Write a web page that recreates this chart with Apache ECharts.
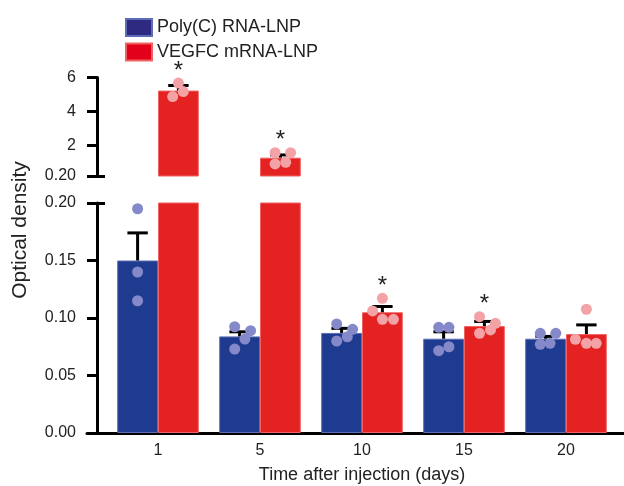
<!DOCTYPE html>
<html>
<head>
<meta charset="utf-8">
<script src="https://cdn.jsdelivr.net/npm/echarts@6/dist/echarts.min.js"></script>
<style>html,body{margin:0;padding:0;background:#fff}#c{width:624px;height:486px}</style>
</head>
<body>
<div id="c"></div>
<script>
// ---------- data ----------
const categories = ['1', '5', '10', '15', '20'];
const seriesNames = ['Poly(C) RNA-LNP', 'VEGFC mRNA-LNP'];
const polyMean = [0.150, 0.084, 0.087, 0.082, 0.082];
const polySem  = [0.024, 0.004, 0.004, 0.006, 0.002];
const vegfMean = [5.23, 1.28, 0.105, 0.093, 0.086];
const vegfSem  = [0.30, 0.16, 0.005, 0.004, 0.008];
const polyPoints = [
  [0.195, 0.140, 0.115],
  [0.0924, 0.089, 0.0817, 0.073],
  [0.0948, 0.0902, 0.0837, 0.080],
  [0.0919, 0.0919, 0.0716, 0.075],
  [0.0867, 0.0867, 0.0771, 0.078]
];
const vegfPoints = [
  [5.67, 4.88, 5.17],
  [1.575, 1.575, 0.908, 1.008],
  [0.1171, 0.1061, 0.0989, 0.0989],
  [0.1011, 0.0954, 0.0896, 0.0867],
  [0.1076, 0.0815, 0.078, 0.078]
];
const vegfSignificant = [true, true, true, true, false];
const topTicks = [0.2, 2, 4, 6];
const bottomTicks = [0, 0.05, 0.10, 0.15, 0.20];
// horizontal jitter of the dots, as a fraction of bar width
const polyJitter = [
  [0, 0, 0], [-0.12, 0.27, 0.13, -0.12], [-0.12, 0.27, 0.14, -0.12],
  [-0.12, 0.13, -0.12, 0.13], [-0.13, 0.25, -0.13, 0.11]
];
const vegfJitter = [
  [0, -0.14, 0.12], [-0.13, 0.25, -0.13, 0.13], [0, -0.24, 0, 0.27],
  [-0.12, 0.27, 0.15, -0.12], [0, -0.27, 0, 0.24]
];

// ---------- styling ----------
const FONT = 'Liberation Sans, Arial, sans-serif';
const BAR_COLORS = ['#1f3b8f', '#e42222'];
const BAR_BORDERS = ['#5d6db5', '#f06262'];
const DOT_COLORS = ['#8589c9', '#f3a2a6'];
const LEGEND_COLORS = ['#2e2a82', '#e2001a'];
const BARW = 0.4; // bar width as band fraction

const means = [polyMean, vegfMean];
const sems = [polySem, vegfSem];
const points = [polyPoints, vegfPoints];
const jitters = [polyJitter, vegfJitter];

function renderMarks(params, api) {
  const cat = api.value(0);
  const s = api.value(2);
  const band = api.size([1, 0])[0];
  const bw = band * BARW;
  const cx = api.coord([cat, 0])[0] + (s === 0 ? -bw / 2 : bw / 2);
  const m = means[s][cat], e = sems[s][cat];
  const yM = api.coord([cat, m])[1];
  const yE = api.coord([cat, m + e])[1];
  const children = [];
  children.push({ type: 'line', shape: { x1: cx, y1: yM, x2: cx, y2: yE },
    style: { stroke: '#000', lineWidth: 3 } });
  children.push({ type: 'line', shape: { x1: cx - bw / 4, y1: yE, x2: cx + bw / 4, y2: yE },
    style: { stroke: '#000', lineWidth: 3 } });
  let minY = Infinity;
  points[s][cat].forEach(function (v, k) {
    const p = api.coord([cat, v]);
    const x = cx + jitters[s][cat][k] * bw;
    minY = Math.min(minY, p[1]);
    children.push({ type: 'circle', shape: { cx: x, cy: p[1], r: 5.5 },
      style: { fill: DOT_COLORS[s] } });
  });
  if (s === 1 && vegfSignificant[cat]) {
    children.push({ type: 'text', x: cx, y: minY - 12,
      style: { text: '*', font: '24px ' + FONT, fill: '#222', align: 'center', verticalAlign: 'middle' } });
  }
  return { type: 'group', children: children };
}

function markData(top) {
  const out = [];
  for (let s = 0; s < 2; s++) {
    for (let i = 0; i < categories.length; i++) {
      const m = means[s][i];
      if ((top && m > 0.2) || (!top && m <= 0.2)) out.push([i, m, s]);
    }
  }
  return out;
}

const axisLineStyle = { color: '#000', width: 3 };
const chart = echarts.init(document.getElementById('c'), null, { renderer: 'canvas' });
chart.setOption({
  animation: false,
  textStyle: { fontFamily: FONT },
  legend: {
    orient: 'vertical', left: 120, top: 13, itemWidth: 26, itemHeight: 17, itemGap: 5.5,
    textStyle: { fontSize: 18, color: '#222', fontFamily: FONT },
    data: seriesNames.map(function (n, i) { return { name: n, icon: 'rect', itemStyle: { color: LEGEND_COLORS[i] } }; })
  },
  grid: [
    { left: 107, right: 7, top: 77.5, height: 98.5 },
    { left: 107, right: 7, top: 203, height: 230 },
    { left: 87, right: 0, top: 203, height: 230 }
  ],
  graphic: [{
    type: 'text', x: 20, y: 230, rotation: Math.PI / 2,
    style: { text: 'Optical density', font: '21px ' + FONT, fill: '#222', align: 'center', verticalAlign: 'middle' }
  }],
  xAxis: [
    { gridIndex: 0, type: 'category', data: categories, show: false },
    { gridIndex: 1, type: 'category', data: categories,
      axisLine: { show: false }, axisTick: { show: false },
      axisLabel: { fontSize: 16, color: '#222', margin: 10 },
      name: 'Time after injection (days)', nameLocation: 'middle', nameGap: 33,
      nameTextStyle: { fontSize: 18, color: '#222' } },
    { gridIndex: 2, type: 'value', min: 0, max: 1,
      axisLine: { show: true, onZero: false, lineStyle: axisLineStyle },
      axisTick: { show: false }, axisLabel: { show: false }, splitLine: { show: false } }
  ],
  yAxis: [
    { gridIndex: 0, type: 'value', position: 'left', min: 0.2, max: 6, offset: 10,
      axisLine: { show: true, lineStyle: axisLineStyle },
      axisTick: { show: true, length: 10, lineStyle: axisLineStyle, customValues: topTicks },
      axisLabel: { fontSize: 16, color: '#222', margin: 21, customValues: topTicks,
        formatter: function (v) { return v < 1 ? v.toFixed(2) : String(v); } },
      splitLine: { show: false } },
    { gridIndex: 0, type: 'value', position: 'left', min: 0.2, max: 6, offset: 10,
      axisLine: { show: false },
      axisTick: { show: true, inside: true, length: 8, lineStyle: axisLineStyle, customValues: [0.2] },
      axisLabel: { show: false }, splitLine: { show: false } },
    { gridIndex: 1, type: 'value', position: 'left', min: 0, max: 0.2, interval: 0.05, offset: 10,
      axisLine: { show: true, lineStyle: axisLineStyle },
      axisTick: { show: true, length: 10, lineStyle: axisLineStyle, customValues: bottomTicks },
      axisLabel: { fontSize: 16, color: '#222', margin: 21, customValues: bottomTicks,
        formatter: function (v) { return v.toFixed(2); } },
      splitLine: { show: false } },
    { gridIndex: 1, type: 'value', position: 'left', min: 0, max: 0.2, offset: 10,
      axisLine: { show: false },
      axisTick: { show: true, inside: true, length: 8, lineStyle: axisLineStyle, customValues: [0.2] },
      axisLabel: { show: false }, splitLine: { show: false } },
    { gridIndex: 2, type: 'value', show: false, min: 0, max: 1 }
  ],
  series: [
    { name: seriesNames[0], type: 'bar', xAxisIndex: 0, yAxisIndex: 0, barWidth: '40%', barGap: 0,
      clip: true, itemStyle: { color: BAR_COLORS[0], borderColor: BAR_BORDERS[0], borderWidth: 1 },
      data: polyMean.map(function (v) { return v > 0.2 ? v : '-'; }) },
    { name: seriesNames[1], type: 'bar', xAxisIndex: 0, yAxisIndex: 0, barWidth: '40%', barGap: 0,
      clip: true, itemStyle: { color: BAR_COLORS[1], borderColor: BAR_BORDERS[1], borderWidth: 1 },
      data: vegfMean.map(function (v) { return v > 0.2 ? v : '-'; }) },
    { name: seriesNames[0], type: 'bar', xAxisIndex: 1, yAxisIndex: 2, barWidth: '40%', barGap: 0,
      clip: true, itemStyle: { color: BAR_COLORS[0], borderColor: BAR_BORDERS[0], borderWidth: 1 },
      data: polyMean },
    { name: seriesNames[1], type: 'bar', xAxisIndex: 1, yAxisIndex: 2, barWidth: '40%', barGap: 0,
      clip: true, itemStyle: { color: BAR_COLORS[1], borderColor: BAR_BORDERS[1], borderWidth: 1 },
      data: vegfMean },
    { type: 'custom', xAxisIndex: 0, yAxisIndex: 0, z: 5, renderItem: renderMarks,
      encode: { x: 0, y: 1 }, data: markData(true) },
    { type: 'custom', xAxisIndex: 1, yAxisIndex: 2, z: 5, renderItem: renderMarks,
      encode: { x: 0, y: 1 }, data: markData(false) }
  ]
});
</script>
</body>
</html>
